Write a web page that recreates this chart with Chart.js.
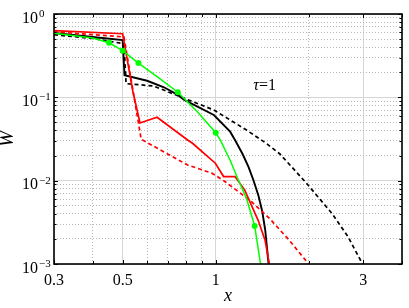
<!DOCTYPE html>
<html><head><meta charset="utf-8">
<script src="https://cdn.jsdelivr.net/npm/chart.js@4.4.1/dist/chart.umd.min.js"></script>
<style>html,body{margin:0;padding:0;background:#fff;}canvas{display:block;}</style>
</head><body>
<canvas id="c" width="409" height="308"></canvas>
<script>
// ---- data ----
const xBlack  = [0.3, 0.4, 0.5, 0.507, 0.6, 0.68, 0.754, 0.791, 0.986, 1.113, 1.154, 1.221, 1.276, 1.323, 1.373, 1.413, 1.445, 1.482, 1.498];
const yBlack  = [0.591, 0.53, 0.487, 0.184, 0.158, 0.132, 0.107, 0.093, 0.0614, 0.0387, 0.0308, 0.0209, 0.0146, 0.0102, 0.0067, 0.0043, 0.00256, 0.001, 0.0005];

const xBlackD = [0.3, 0.4, 0.505, 0.513, 0.628, 0.791, 0.986, 1.257, 1.455, 1.612, 1.949, 2.375, 2.675, 2.957, 3.022];
const yBlackD = [0.564, 0.508, 0.44, 0.146, 0.137, 0.0974, 0.0705, 0.0405, 0.0281, 0.0209, 0.00964, 0.00404, 0.00213, 0.00106, 0.00085];

const xRed    = [0.3, 0.5, 0.54, 0.569, 0.646, 0.811, 0.841, 0.997, 1.06, 1.154, 1.241, 1.373, 1.445, 1.49, 1.509];
const yRed    = [0.63, 0.58, 0.116, 0.0492, 0.0576, 0.0308, 0.0281, 0.0162, 0.0112, 0.0112, 0.0077, 0.0033, 0.0019, 0.001, 0.00064];

const xRedD   = [0.3, 0.505, 0.574, 0.811, 0.973, 1.073, 1.294, 1.498, 1.734, 1.997, 2.036];
const yRedD   = [0.613, 0.53, 0.0314, 0.0154, 0.0123, 0.0097, 0.00575, 0.00347, 0.0019, 0.001, 0.00085];

const xGreen  = [0.3, 0.4, 0.452, 0.5, 0.5625, 0.651, 0.754, 0.872, 1.0, 1.034, 1.112, 1.183, 1.257, 1.336, 1.396, 1.413];
const yGreen  = [0.587, 0.515, 0.452, 0.363, 0.258, 0.174, 0.115, 0.0672, 0.0376, 0.0308, 0.0177, 0.0102, 0.00614, 0.00286, 0.001, 0.00056];

const xGreenMark = [0.452, 0.5, 0.5625, 0.754, 1.0, 1.336];
const yGreenMark = [0.452, 0.363, 0.258, 0.115, 0.0376, 0.00286];

const xTickVals   = [0.3, 0.4, 0.5, 0.6, 0.7, 0.8, 0.9, 1, 2, 3, 4];
const xLabelVals  = [0.3, 0.5, 1, 3];
const xLabelTexts = ['0.3', '0.5', '1', '3'];

const yTickVals = [0.001,0.002,0.003,0.004,0.005,0.006,0.007,0.008,0.009,
                   0.01,0.02,0.03,0.04,0.05,0.06,0.07,0.08,0.09,
                   0.1,0.2,0.3,0.4,0.5,0.6,0.7,0.8,0.9,1];
const yDecades   = [1, 0.1, 0.01, 0.001];
const yExponents = ['0', '\u22121', '\u22122', '\u22123'];

const annotText = ['\u03C4', '=1'];
const annotPos = {x: 1.323, y: 0.124};

// ---- helpers ----
const pts = (xs, ys) => xs.map((v, i) => ({x: v, y: ys[i]}));
const isDecade = v => Math.abs(Math.log10(v) - Math.round(Math.log10(v))) < 1e-6;
const isXMajor = v => xLabelVals.indexOf(v) >= 0;
const SERIF = '"Liberation Serif", "Times New Roman", serif';

const framePlugin = {
  id: 'framePlugin',
  afterDraw(chart) {
    const {ctx, chartArea: a, scales: {x, y}} = chart;
    ctx.save();
    ctx.strokeStyle = '#000';
    ctx.lineWidth = 1;
    ctx.beginPath();
    xTickVals.forEach(v => {
      const px = Math.round(x.getPixelForValue(v)) + 0.5;
      const len = isXMajor(v) ? 4 : 3;
      ctx.moveTo(px, a.bottom); ctx.lineTo(px, a.bottom - len);
      ctx.moveTo(px, a.top); ctx.lineTo(px, a.top + len);
    });
    yTickVals.forEach(v => {
      const py = Math.round(y.getPixelForValue(v)) + 0.5;
      const len = isDecade(v) ? 4 : 2.5;
      ctx.moveTo(a.left, py); ctx.lineTo(a.left + len, py);
      ctx.moveTo(a.right, py); ctx.lineTo(a.right - len, py);
    });
    ctx.stroke();
    // box
    ctx.lineWidth = 1.6;
    ctx.strokeRect(a.left, a.top, a.right - a.left, a.bottom - a.top);
    // y tick labels with superscripts
    ctx.fillStyle = '#000';
    ctx.textBaseline = 'alphabetic';
    ctx.textAlign = 'left';
    yDecades.forEach((v, i) => {
      const py = y.getPixelForValue(v);
      ctx.font = '16px ' + SERIF;
      ctx.fillText('10', 22, py + 8.5);
      const w = ctx.measureText('10').width;
      ctx.font = '11px ' + SERIF;
      ctx.fillText(yExponents[i], 22 + w + 1, py + 3);
    });
    // annotation
    const ax = x.getPixelForValue(annotPos.x);
    const ay = y.getPixelForValue(annotPos.y);
    ctx.font = 'italic 16px ' + SERIF;
    ctx.fillText(annotText[0], ax, ay);
    const tw = ctx.measureText(annotText[0]).width;
    ctx.font = '16px ' + SERIF;
    ctx.fillText(annotText[1], ax + tw, ay);
    ctx.restore();
  }
};

const gridMajor = '#d6d6d6';
const gridMinor = '#b8b8b8';

new Chart(document.getElementById('c'), {
  type: 'line',
  data: {
    datasets: [
      {data: pts(xGreenMark, yGreenMark), showLine: false, pointRadius: 3, pointBackgroundColor: '#00ff00', pointBorderWidth: 0, borderColor: '#00ff00'},
      {data: pts(xGreen, yGreen), borderColor: '#00ff00', borderWidth: 1.5, pointRadius: 0},
      {data: pts(xRed, yRed), borderColor: '#ff0000', borderWidth: 1.7, pointRadius: 0},
      {data: pts(xRedD, yRedD), borderColor: '#ff0000', borderWidth: 1.7, borderDash: [4, 3], pointRadius: 0},
      {data: pts(xBlack, yBlack), borderColor: '#000000', borderWidth: 1.9, pointRadius: 0},
      {data: pts(xBlackD, yBlackD), borderColor: '#000000', borderWidth: 1.7, borderDash: [4, 3], pointRadius: 0}
    ]
  },
  options: {
    responsive: false,
    animation: false,
    devicePixelRatio: 1,
    events: [],
    layout: {padding: {left: 0, right: 1, top: 14, bottom: 0}},
    elements: {line: {tension: 0}},
    plugins: {legend: {display: false}, tooltip: {enabled: false}},
    scales: {
      x: {
        type: 'logarithmic', min: 0.3, max: 4,
        afterBuildTicks: s => { s.ticks = xTickVals.map(v => ({value: v})); },
        afterFit: s => { s.height = 44; },
        ticks: {
          autoSkip: false, maxRotation: 0, minRotation: 0, padding: 7,
          color: '#000', font: {family: SERIF, size: 16},
          callback: v => { const i = xLabelVals.indexOf(v); return i >= 0 ? xLabelTexts[i] : ''; }
        },
        grid: {
          drawTicks: false,
          color: c => (c.tick && isXMajor(c.tick.value)) ? gridMajor : gridMinor,
          lineWidth: 1
        },
        border: {display: false, dash: c => (c.tick && !isXMajor(c.tick.value)) ? [1, 2] : []},
        title: {display: true, text: 'x', color: '#000', font: {family: SERIF, size: 18, style: 'italic', lineHeight: 1.2}, padding: {top: 0, bottom: 1}}
      },
      y: {
        type: 'logarithmic', min: 0.001, max: 1,
        afterBuildTicks: s => { s.ticks = yTickVals.map(v => ({value: v})); },
        afterFit: s => { s.width = 54; },
        ticks: {display: false, autoSkip: false},
        grid: {
          drawTicks: false,
          color: c => (c.tick && isDecade(c.tick.value)) ? gridMajor : gridMinor,
          lineWidth: 1
        },
        border: {display: false, dash: c => (c.tick && !isDecade(c.tick.value)) ? [1, 2] : []},
        title: {display: true, text: 'W', color: '#000', font: {family: SERIF, size: 20, style: 'italic', lineHeight: 0.8}, padding: {top: 0, bottom: 0}}
      }
    }
  },
  plugins: [framePlugin]
});
</script>
</body></html>
